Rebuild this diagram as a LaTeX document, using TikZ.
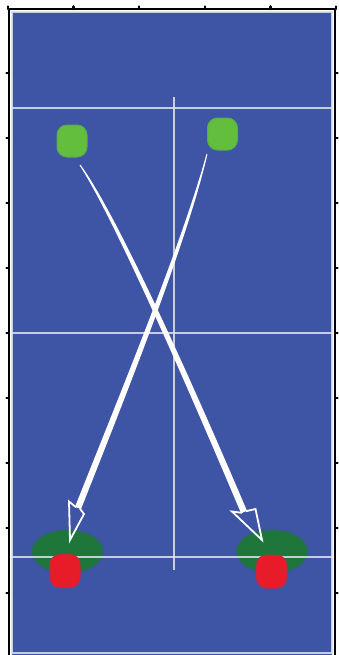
\documentclass[tikz,border=0pt]{standalone}
\usetikzlibrary{shapes.geometric}

\definecolor{courtblue}{RGB}{62,84,164}
\definecolor{spotgreen}{RGB}{98,190,60}
\definecolor{zonegreen}{RGB}{30,118,58}
\definecolor{hitred}{RGB}{232,28,40}
\definecolor{lineshade}{RGB}{222,226,236}

\tikzset{
  courtline/.style={lineshade, line width=0.15cm, opacity=0.85},
  greenspot/.style={fill=spotgreen, draw=spotgreen!80!courtblue, line width=0.1cm,
    rounded corners=1cm, minimum width=3cm, minimum height=3.2cm, inner sep=0pt},
  zone/.style={ellipse, fill=zonegreen, draw=zonegreen!60!courtblue, line width=0.15cm,
    minimum width=7.1cm, minimum height=4.3cm, inner sep=0pt},
  redspot/.style={fill=hitred, draw=hitred!80!courtblue, line width=0.1cm,
    rounded corners=1cm, minimum width=3cm, minimum height=3.3cm, inner sep=0pt},
  shaft/.style={fill=white},
  headline/.style={white, line width=0.18cm, line join=miter},
  tick/.style={black, line width=0.25cm, line cap=round}
}

\begin{document}
\begin{tikzpicture}[x=0.1cm, y=-0.1cm]
  \useasboundingbox (0,0) rectangle (339,655);

  % -- Court --
  \fill[courtblue] (12,12) rectangle (332,656);
  \draw[courtline] (12,12) rectangle (332,653);
  \draw[black, line width=0.2cm] (9,660) |- (335,9) -- (335,660);

  % -- Axis ticks --
  \foreach \x in {8,73.6,139.2,204.8,270.4,336}
    \draw[tick] (\x,9) -- (\x,6.5);
  \foreach \y in {73,138,203,268,333,398,463,528,593} {
    \draw[tick] (9,\y) -- (6.5,\y);
    \draw[tick] (335,\y) -- (337.5,\y);
  }

  % -- Court lines --
  \draw[courtline] (12,108) -- (332,108);
  \draw[courtline] (12,333) -- (332,333);
  \draw[courtline] (174,97) -- (174,570);

  % -- Landing zones --
  \node[zone] (zoneL) at (67.5,551.5) {};
  \node[zone] (zoneR) at (272,551.5) {};
  \draw[courtline] (12,557) -- (332,557);

  % -- Hits --
  \node[redspot] (hitL) at (65,571) {};
  \node[redspot] (hitR) at (271.5,571.5) {};

  % -- Start spots --
  \node[greenspot] (spotL) at (72,141) {};
  \node[greenspot] (spotR) at (222.5,134) {};

  % -- Arrow from left spot to right zone --
  \coordinate (tailA) at (80,165);
  \coordinate (neckA) at (244,512);
  \coordinate (barbAl) at (232,511.5);
  \coordinate (barbAr) at (255.5,509);
  \coordinate (tipA) at (262,540);
  \fill[shaft] ([shift={(0.4,-0.3)}]tailA) .. controls +(35.4,48.05) and +(-58.68,-137.92) .. ([shift={(2.94,-1.25)}]neckA)
    -- ([shift={(-2.94,1.25)}]neckA) .. controls +(-58.32,-138.08) and +(32.59,49.95) .. ([shift={(-0.4,0.3)}]tailA) -- cycle;
  \draw[headline] ([shift={(-2,0.8)}]neckA) -- (barbAl) -- (tipA) -- (barbAr) -- ([shift={(2,-0.8)}]neckA);

  % -- Arrow from right spot to left zone --
  \coordinate (tailB) at (207,154);
  \coordinate (neckB) at (78,508);
  \coordinate (barbBl) at (69,501.5);
  \coordinate (barbBr) at (84,514);
  \coordinate (tipB) at (70,540);
  \fill[shaft] ([shift={(0.48,0.12)}]tailB) .. controls +(-20.35,87.42) and +(47.81,-121.07) .. ([shift={(2.98,1.18)}]neckB)
    -- ([shift={(-2.98,-1.18)}]neckB) .. controls +(48.19,-120.93) and +(-23.65,86.58) .. ([shift={(-0.48,-0.12)}]tailB) -- cycle;
  \draw[headline] ([shift={(-2,-0.8)}]neckB) -- (barbBl) -- (tipB) -- (barbBr) -- ([shift={(2,0.8)}]neckB);

\end{tikzpicture}
\end{document}
